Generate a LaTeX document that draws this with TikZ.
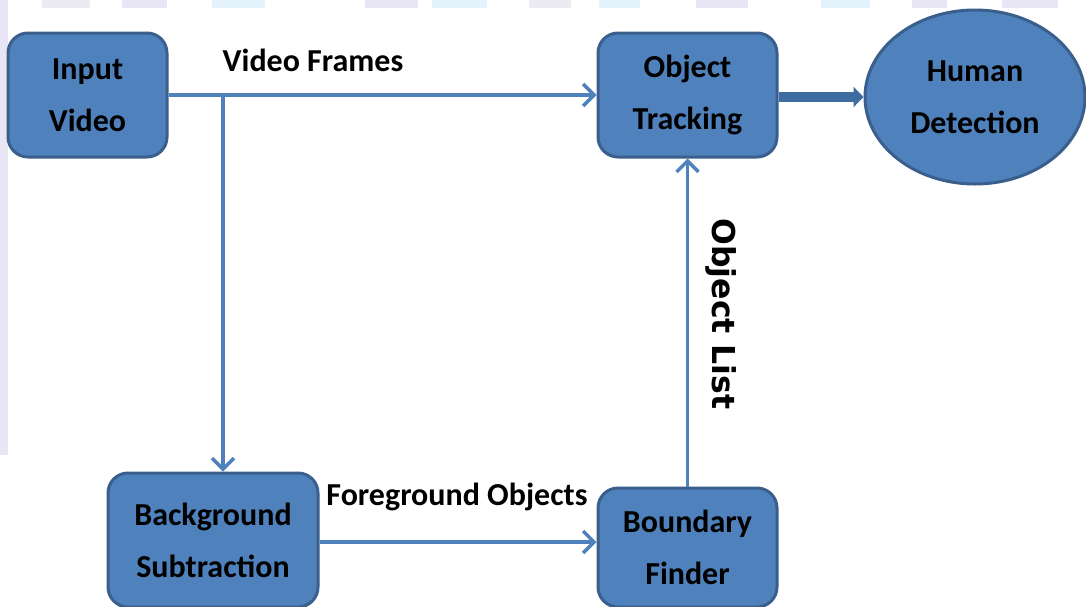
\documentclass[tikz,border=0pt]{standalone}
\usepackage{fontspec}
\setmainfont{Carlito}
\newfontfamily\dejavu{DejaVu Sans}
\usetikzlibrary{arrows.meta,shapes.geometric,calc}
\definecolor{boxfill}{HTML}{4F81BD}
\definecolor{boxline}{HTML}{3A5F8C}
\definecolor{conn}{HTML}{4F81BD}
\definecolor{thickc}{HTML}{3E6BA0}
\definecolor{wmA}{HTML}{E8E6F5}
\definecolor{wmB}{HTML}{E4F3FB}
\definecolor{wmC}{HTML}{ECEBF1}
\tikzset{
  stepbox/.style={draw=boxline, line width=3pt, fill=boxfill, rounded corners=20pt,
    align=center, inner sep=0pt, font=\bfseries\fontsize{32}{52}\selectfont, text=black},
  ovalbox/.style={draw=boxline, line width=3pt, fill=boxfill, ellipse,
    align=center, inner sep=0pt, font=\bfseries\fontsize{32}{52}\selectfont, text=black},
  arr/.style={draw=conn, line width=3.5pt, -{Straight Barb[length=11pt,width=22pt]}},
  thickarr/.style={draw=thickc, line width=10pt, -{Triangle[length=10pt,width=20pt]}},
  lbl/.style={font=\bfseries\fontsize{32}{40}\selectfont, text=black, inner sep=0pt},
}
\begin{document}
\begin{tikzpicture}[x=1pt,y=-1pt]
\useasboundingbox (0,0) rectangle (1086,606);
\fill[white] (0,0) rectangle (1086,606);
% faint watermark remnants
\fill[wmA] (0,0) rectangle (8,455);
\foreach \a/\b/\c in {42/90/wmC,122/167/wmA,212/265/wmB,365/418/wmA,432/487/wmB,529/571/wmC,599/640/wmB,696/748/wmA,821/870/wmB,912/947/wmA,1002/1058/wmA}
  \fill[\c] (\a,0) rectangle (\b,8);
\begin{scope}
\clip (0,0) rectangle (1086,606);
\node[stepbox, minimum width=159pt, minimum height=124pt] (input) at (87.5,95) {Input\\Video};
\node[stepbox, minimum width=179pt, minimum height=124pt] (track) at (687.5,95) {Object\\Tracking};
\node[ovalbox, minimum width=220pt, minimum height=174pt] (human) at (975,97) {Human\\Detection};
\node[stepbox, minimum width=210pt, minimum height=134pt] (bg) at (213,540) {Background\\Subtraction};
\node[stepbox, minimum width=179pt, minimum height=119pt] (bound) at (687.5,547.5) {Boundary\\Finder};
\end{scope}
\coordinate (split) at (223,95);
\draw[arr] (input.east) -- (track.west);
\draw[arr] (split) -- (split |- bg.north);
\draw[arr] ([yshift=-2pt]bg.east) -- ([yshift=-2pt]bg.east -| bound.west);
\draw[arr] (bound.north) -- (track.south);
\draw[thickarr] ([yshift=-2pt]track.east) -- ([yshift=-2pt]track.east -| human.west);
\node[lbl] (vf) at (313,60) {Video Frames};
\node[lbl] (fo) at (457,497) {Foreground Objects};
\node[font=\dejavu\bfseries\fontsize{31.5}{36}\selectfont, rotate=-90, inner sep=0pt] (ol) at (721,314) {Object List};
\end{tikzpicture}
\end{document}
